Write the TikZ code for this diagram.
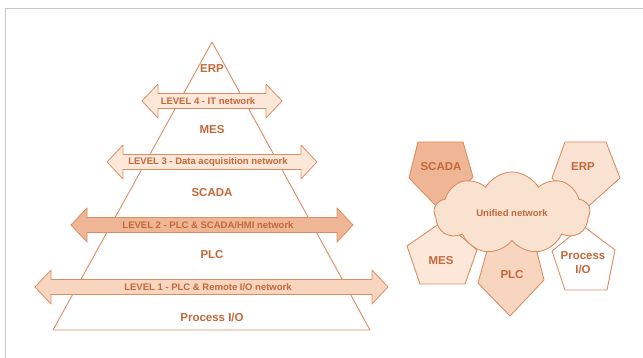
\documentclass[tikz,border=0pt]{standalone}
\usepackage{fontspec}
\setmainfont{Liberation Sans}
\usepackage{tikz}
\usetikzlibrary{shapes.symbols}

\definecolor{edge}{RGB}{221,141,98}
\definecolor{ink}{RGB}{196,104,58}
\definecolor{lightfill}{RGB}{252,231,217}
\definecolor{midfill}{RGB}{247,213,191}
\definecolor{darkfill}{RGB}{238,182,148}
\definecolor{framegray}{RGB}{200,200,200}

% double headed network arrow: y, left tip, right tip, fill, name, text
\newcommand{\levelarrow}[6]{%
    \draw[netarrow, fill=#4] (#2,#1) -- (#2+16,#1-17) -- (#2+16,#1-7.5)
        -- (#3-16,#1-7.5) -- (#3-16,#1-17) -- (#3,#1) -- (#3-16,#1+17)
        -- (#3-16,#1+7.5) -- (#2+16,#1+7.5) -- (#2+16,#1+17) -- cycle;
    \node[netlabel] (#5) at (208,#1) {#6};
}

\begin{document}
\begin{tikzpicture}[
    x=1pt, y=-1pt,
    every node/.style={text=ink, font=\bfseries},
    levelname/.style={font=\fontsize{11.5}{14}\bfseries},
    netlabel/.style={font=\fontsize{9.5}{10}\bfseries, inner sep=0pt},
    netarrow/.style={draw=edge, line width=0.8pt, line join=round},
    block/.style={draw=edge, line width=0.9pt, line join=round},
]
    \useasboundingbox (0,0) rectangle (643,358);
    \draw[framegray, line width=1.3pt] (643,8.5) -- (5.5,8.5) -- (5.5,358);

    % layered pyramid
    \draw[block, fill=white] (212,42) -- (370,330) -- (53,330) -- cycle;
    \node[levelname] (erp) at (212,69) {ERP};
    \node[levelname] (mes) at (212,130) {MES};
    \node[levelname] (scada) at (212,193) {SCADA};
    \node[levelname] (plc) at (212,255) {PLC};
    \node[levelname] (pio) at (212,317) {Process I/O};

    \levelarrow{101}{142}{282}{lightfill}{lvfour}{LEVEL 4 - IT network}
    \levelarrow{162}{107}{317}{lightfill}{lvthree}{LEVEL 3 - Data acquisition network}
    \levelarrow{225}{71}{353}{darkfill}{lvtwo}{LEVEL 2 - PLC \& SCADA/HMI network}
    \levelarrow{287}{35}{388}{midfill}{lvone}{LEVEL 1 - PLC \& Remote I/O network}

    % flat architecture round one network
    \draw[block, fill=darkfill] (418,142) -- (463,142) -- (473,177) -- (442,212) -- (409,178) -- cycle;
    \draw[block, fill=lightfill!80!midfill] (565,142) -- (606,142) -- (620,178) -- (582,212) -- (552,178) -- cycle;
    \draw[block, fill=lightfill] (443,221) -- (477,250) -- (465,284) -- (420,284) -- (407,246) -- cycle;
    \draw[block, fill=midfill] (490,240) -- (534,240) -- (544,280) -- (510,316) -- (478,283) -- cycle;
    \draw[block, fill=white] (583,226) -- (615,250) -- (607,290) -- (565,290) -- (552,251) -- cycle;

    \node[cloud, cloud puffs=9, cloud puff arc=120, aspect=1.9, draw=edge,
        line width=0.9pt, fill=lightfill!70!midfill, minimum width=156pt,
        minimum height=82pt, font=\fontsize{9.5}{10}\bfseries] (unified) at (512,213) {Unified network};

    \node[levelname] (scadab) at (441,167) {SCADA};
    \node[levelname] (erpb) at (583,167) {ERP};
    \node[levelname] (mesb) at (441,261) {MES};
    \node[levelname] (plcb) at (512,275) {PLC};
    \node[levelname, align=center] (piob) at (583,263) {Process\\I/O};
\end{tikzpicture}
\end{document}
